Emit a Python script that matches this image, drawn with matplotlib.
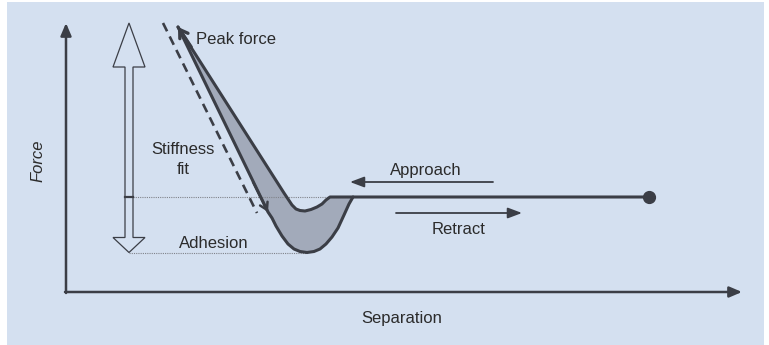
import numpy as np
import matplotlib
matplotlib.use("Agg")
import matplotlib.pyplot as plt
from matplotlib.patches import Rectangle, Polygon

plt.rcParams['font.family'] = ['Liberation Sans', 'DejaVu Sans']

# ---- data (separation, force) in arbitrary schematic units; force 0 = baseline ----
approach_sep = [11.2, 21.8, 22.2, 22.6, 23.0, 23.4, 23.9, 24.5, 25.1, 25.6, 26.0, 26.4, 58.3]
approach_force = [17.0, 0.4, -0.2, -0.8, -1.2, -1.35, -1.4, -1.25, -1.0, -0.7, -0.3, 0.0, 0.0]

retract_sep = [11.2, 20.2, 20.6, 21.0, 21.6, 22.2, 22.8, 23.4, 24.1, 24.8, 25.4, 26.0,
               26.6, 27.2, 27.8, 28.3, 28.7]
retract_force = [17.0, -1.5, -2.1, -2.9, -3.9, -4.7, -5.2, -5.45, -5.55, -5.45, -5.2, -4.7,
                 -4.0, -3.1, -1.8, -0.7, 0.0]

stiffness_sep = [9.7, 19.1]
stiffness_force = [17.4, -1.6]

peak_force = 17.4
adhesion_force = min(retract_force)
axis_origin = (0.0, -9.5)
axis_end = (67.6, 17.4)

labels = {
    "peak": "Peak force",
    "stiff": "Stiffness\nfit",
    "adh": "Adhesion",
    "app": "Approach",
    "ret": "Retract",
    "xlab": "Separation",
    "ylab": "Force",
}

LINE = "#3b3e46"
TEXT = "#2b2b2b"
FILL = "#a2aaba"
BG = "#d4e0f0"

fig = plt.figure(figsize=(7.69, 3.45), dpi=100, facecolor="white")
fig.patches.append(Rectangle((7 / 769, 0), 757 / 769, 343 / 345, transform=fig.transFigure,
                             facecolor=BG, edgecolor="none", zorder=-10))
ax = fig.add_axes([0, 0, 1, 1])
ax.set_facecolor("none")
ax.patch.set_alpha(0)
ax.set_xlim(-6.6, 70.3)
ax.set_ylim(-14.8, 19.7)
ax.axis("off")

# axes arrows
ax.annotate("", xy=(axis_origin[0], axis_end[1]), xytext=(axis_origin[0], axis_origin[1] - 0.1),
            arrowprops=dict(arrowstyle="-|>,head_length=0.75,head_width=0.32", lw=1.8,
                            color=LINE, shrinkA=0, shrinkB=0))
ax.annotate("", xy=(axis_end[0], axis_origin[1]), xytext=(axis_origin[0] - 0.1, axis_origin[1]),
            arrowprops=dict(arrowstyle="-|>,head_length=0.75,head_width=0.32", lw=1.8,
                            color=LINE, shrinkA=0, shrinkB=0))

# shaded hysteresis area
poly_x = list(retract_sep) + list(approach_sep[:12][::-1])
poly_y = list(retract_force) + list(approach_force[:12][::-1])
ax.fill(poly_x, poly_y, color=FILL, zorder=2, lw=0)

# dotted guide lines
arrow_x = 6.3
ax.plot([arrow_x + 0.4, retract_sep[-1]], [0, 0], ls=(0, (1, 1)), color="#80838a", lw=0.8, zorder=3)
ax.plot([arrow_x, retract_sep[8]], [adhesion_force, adhesion_force], ls=(0, (1, 1)),
        color="#80838a", lw=0.8, zorder=3)

# curves
ax.plot(retract_sep, retract_force, color=LINE, lw=2.2, zorder=4, solid_capstyle="round",
        solid_joinstyle="round")
ax.plot(approach_sep, approach_force, color=LINE, lw=2.2, zorder=4, solid_capstyle="round",
        solid_joinstyle="round")
ax.plot(stiffness_sep, stiffness_force, color=LINE, lw=1.9, dashes=(3.5, 2.2), zorder=4)
ax.plot([approach_sep[-1]], [approach_force[-1]], "o", color=LINE, ms=8.5, zorder=5)

# arrowheads on curves
ax.annotate("", xy=(approach_sep[0], approach_force[0]),
            xytext=(approach_sep[0] + 0.66 * 2.0, approach_force[0] - 2.0),
            arrowprops=dict(arrowstyle="->,head_length=0.55,head_width=0.35", lw=2.4,
                            color=LINE, shrinkA=0, shrinkB=0), zorder=6)
ax.annotate("", xy=(retract_sep[1], retract_force[1]),
            xytext=(retract_sep[1] - 0.5 * 3.0, retract_force[1] + 3.0),
            arrowprops=dict(arrowstyle="->,head_length=0.5,head_width=0.3", lw=1.8,
                            color=LINE, shrinkA=0, shrinkB=0), zorder=6)

# direction arrows
ax.annotate("", xy=(28.4, 1.5), xytext=(42.7, 1.5),
            arrowprops=dict(arrowstyle="-|>,head_length=0.85,head_width=0.32", lw=1.3,
                            color=LINE, shrinkA=0, shrinkB=0))
ax.annotate("", xy=(45.6, -1.6), xytext=(33.0, -1.6),
            arrowprops=dict(arrowstyle="-|>,head_length=0.85,head_width=0.32", lw=1.3,
                            color=LINE, shrinkA=0, shrinkB=0))

# hollow double arrow (peak force to adhesion)
sw, hw = 0.4, 1.6
top_len, bot_len = 4.4, 1.5
pts = [
    (arrow_x, peak_force),
    (arrow_x + hw, peak_force - top_len),
    (arrow_x + sw, peak_force - top_len),
    (arrow_x + sw, adhesion_force + bot_len),
    (arrow_x + hw, adhesion_force + bot_len),
    (arrow_x, adhesion_force),
    (arrow_x - hw, adhesion_force + bot_len),
    (arrow_x - sw, adhesion_force + bot_len),
    (arrow_x - sw, peak_force - top_len),
    (arrow_x - hw, peak_force - top_len),
]
ax.add_patch(Polygon(pts, closed=True, facecolor="none", edgecolor=LINE, lw=0.9, zorder=4))
ax.plot([arrow_x - sw, arrow_x + sw], [0, 0], color=LINE, lw=1.6, zorder=4)

# texts
fs = 12
ax.text(13.0, 15.7, labels["peak"], fontsize=fs, color=TEXT, ha="left", va="center")
ax.text(11.7, 3.75, labels["stiff"], fontsize=fs, color=TEXT, ha="center", va="center",
        linespacing=1.35)
ax.text(14.8, -4.6, labels["adh"], fontsize=fs, color=TEXT, ha="center", va="center")
ax.text(36.0, 2.6, labels["app"], fontsize=fs, color=TEXT, ha="center", va="center")
ax.text(39.3, -3.3, labels["ret"], fontsize=fs, color=TEXT, ha="center", va="center")
ax.text(33.6, -12.1, labels["xlab"], fontsize=fs, color=TEXT, ha="center", va="center")
ax.text(-2.8, 3.6, labels["ylab"], fontsize=fs, color=TEXT, ha="center", va="center",
        rotation=90, style="italic")

fig.savefig("out.png", dpi=100, facecolor="white")
